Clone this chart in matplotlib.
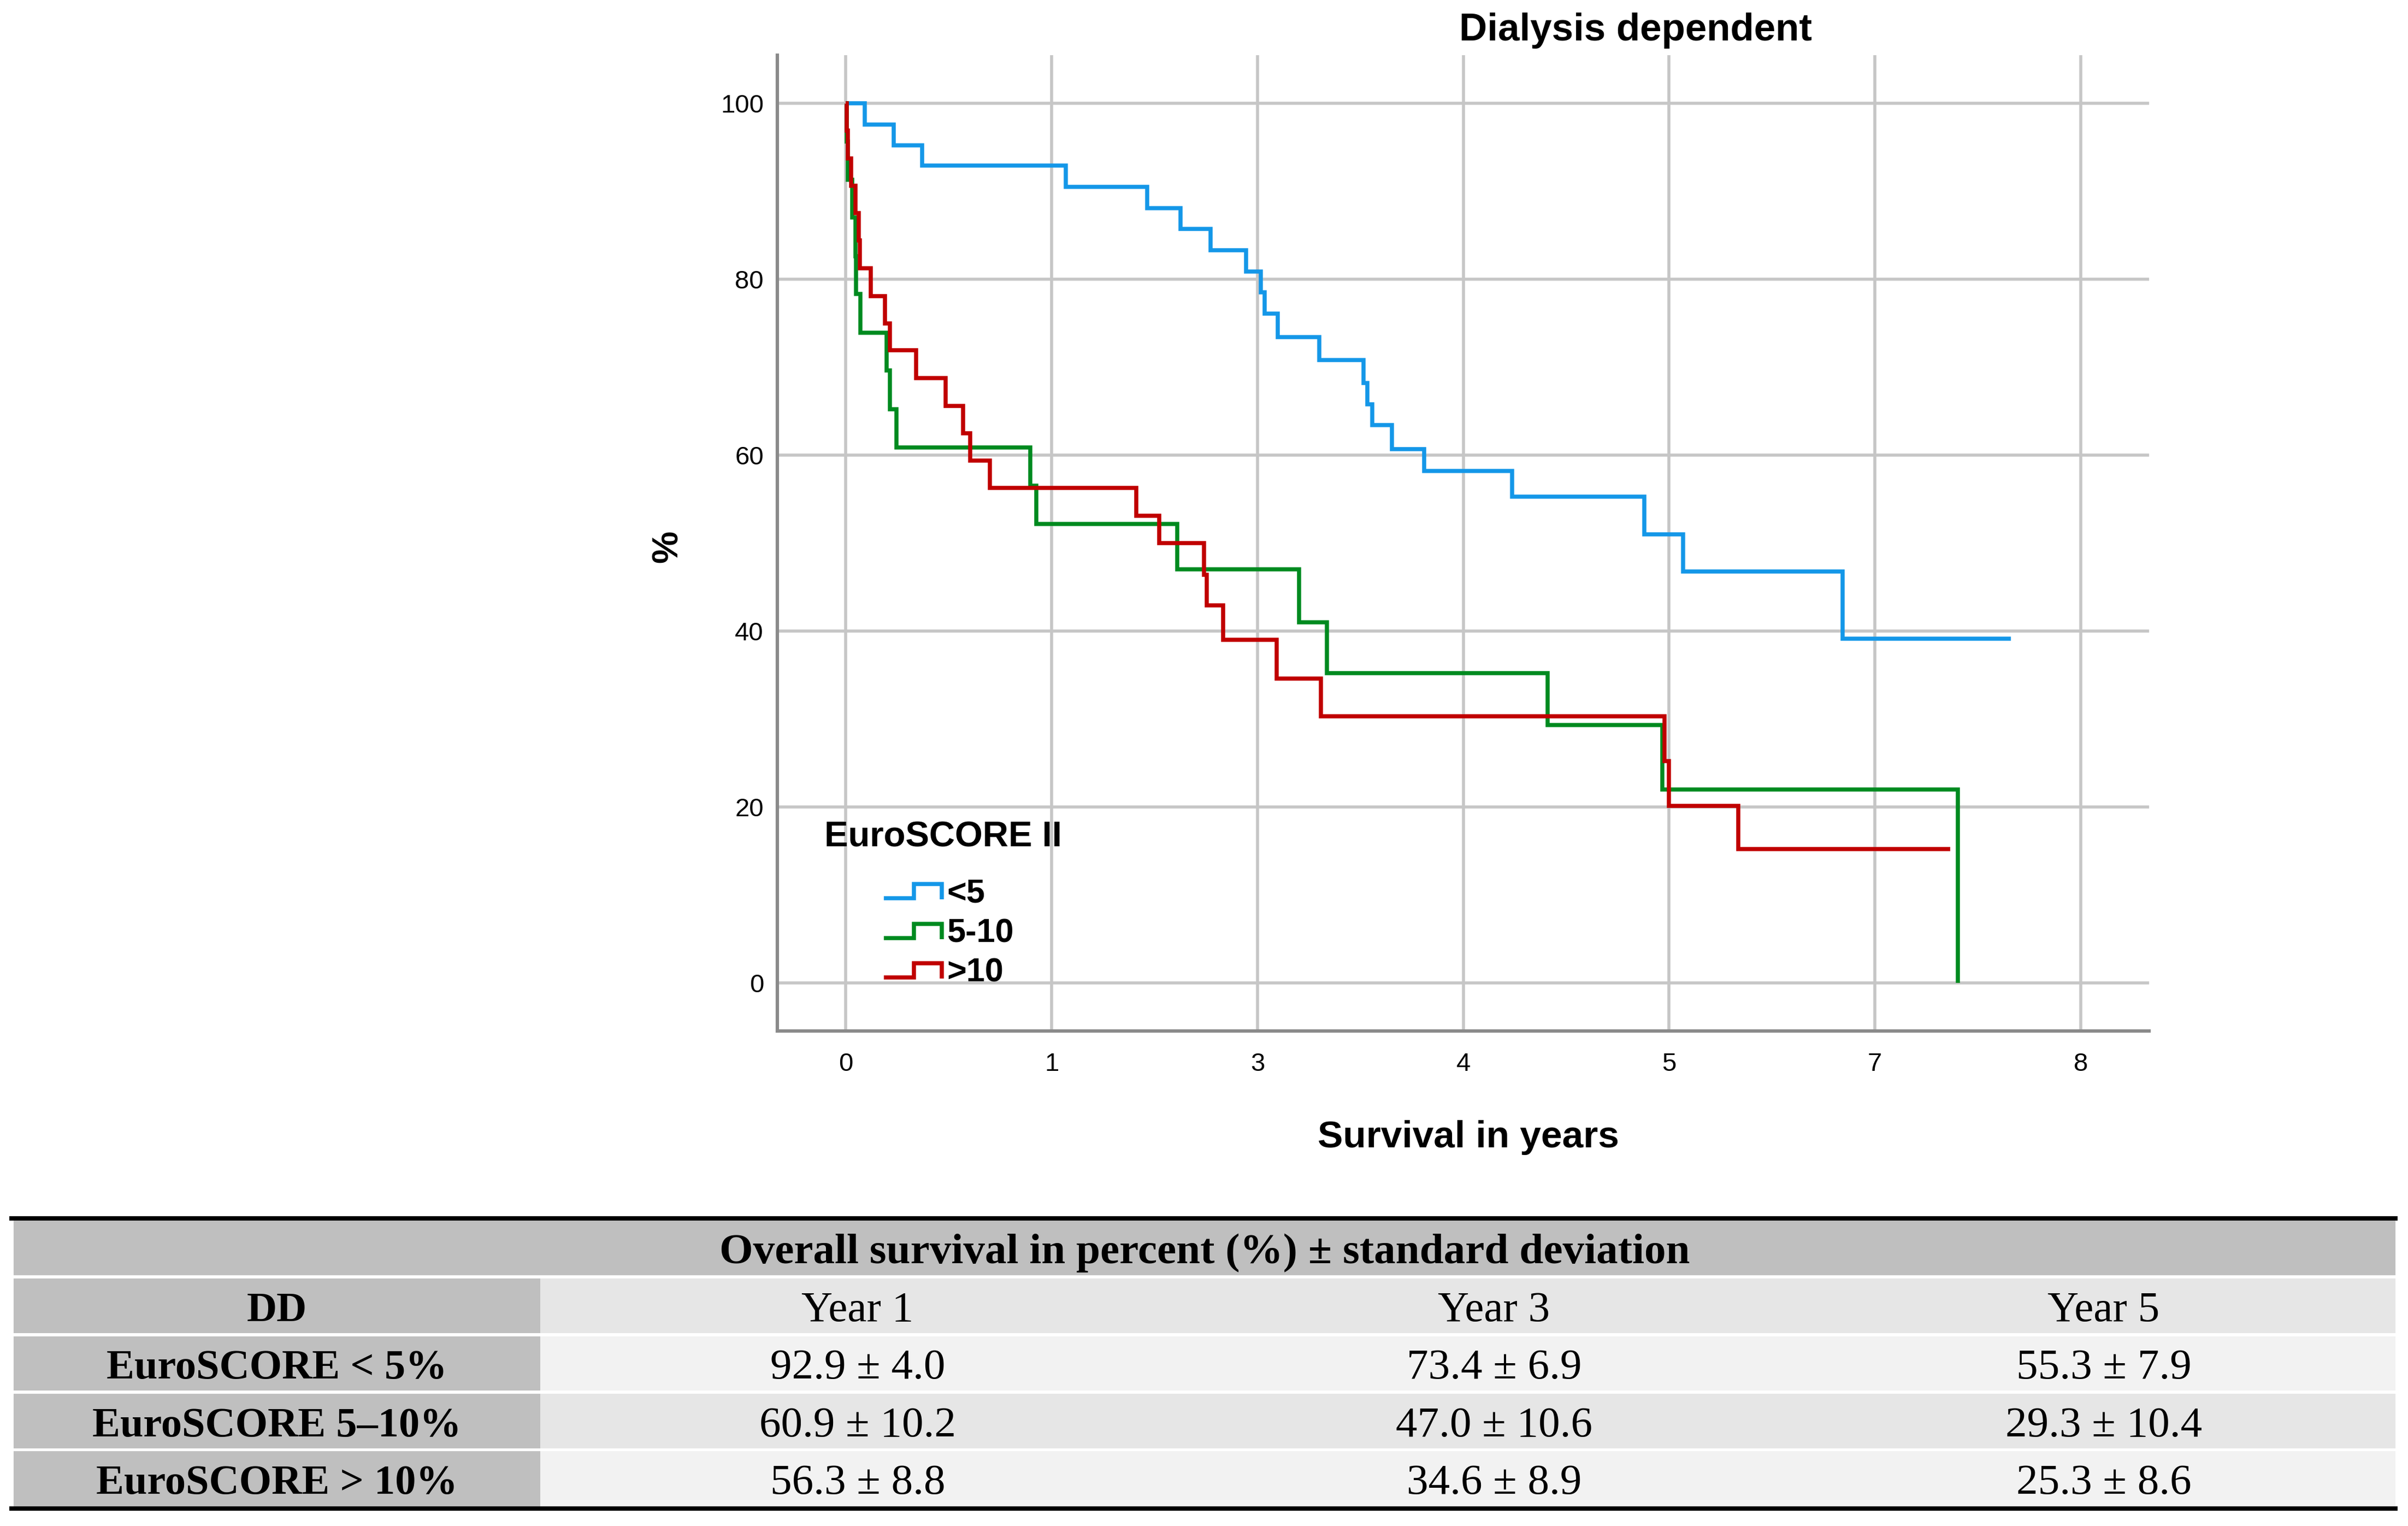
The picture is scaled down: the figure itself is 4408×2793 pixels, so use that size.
import matplotlib
matplotlib.use("Agg")
import matplotlib.pyplot as plt
from matplotlib.lines import Line2D
from matplotlib.patches import Rectangle

# ---------------- data ----------------
groups = ["<5", "5-10", ">10"]
colors = ["#1497E8", "#008A1F", "#C00000"]

blue_t = [0, 0.126, 0.319, 0.508, 1.462, 2.004, 2.226, 2.424, 2.662, 2.760, 2.784,
          2.873, 3.148, 3.444, 3.470, 3.500, 3.632, 3.848, 4.430, 5.312, 5.570, 6.630, 7.750]
blue_s = [100, 97.6, 95.2, 92.9, 90.5, 88.1, 85.7, 83.3, 80.9, 78.5, 76.1,
          73.4, 70.8, 68.2, 65.8, 63.4, 60.7, 58.2, 55.3, 51.0, 46.8, 39.1, 39.1]

green_t = [0, 0.005, 0.012, 0.040, 0.062, 0.068, 0.097, 0.270, 0.292, 0.336,
           1.226, 1.265, 2.205, 3.014, 3.201, 4.669, 5.430, 7.398]
green_s = [100, 95.65, 91.3, 87.0, 82.6, 78.3, 73.9, 69.6, 65.2, 60.9,
           56.5, 52.2, 47.0, 41.0, 35.2, 29.3, 22.0, 0]

red_t = [0, 0.004, 0.012, 0.033, 0.065, 0.086, 0.094, 0.167, 0.260, 0.292, 0.468,
         0.663, 0.781, 0.827, 0.958, 1.930, 2.085, 2.381, 2.400, 2.510, 2.866, 3.158,
         5.445, 5.475, 5.934, 7.344]
red_s = [100, 96.9, 93.75, 90.6, 87.5, 84.4, 81.25, 78.1, 75.0, 71.9, 68.75,
         65.6, 62.5, 59.4, 56.25, 53.1, 50.0, 46.4, 42.9, 39.0, 34.6, 30.3,
         25.2, 20.1, 15.2, 15.2]

tick_days = [0, 500, 1000, 1500, 2000, 2500, 3000]
tick_labels = ["0", "1", "3", "4", "5", "7", "8"]
y_ticks = [0, 20, 40, 60, 80, 100]

table_title = "Overall survival in percent (%) \u00b1 standard deviation"
table_corner = "DD"
table_cols = ["Year 1", "Year 3", "Year 5"]
table_rows = ["EuroSCORE < 5%", "EuroSCORE 5\u201310%", "EuroSCORE > 10%"]
table_vals = [["92.9 \u00b1 4.0", "73.4 \u00b1 6.9", "55.3 \u00b1 7.9"],
              ["60.9 \u00b1 10.2", "47.0 \u00b1 10.6", "29.3 \u00b1 10.4"],
              ["56.3 \u00b1 8.8", "34.6 \u00b1 8.9", "25.3 \u00b1 8.6"]]

# ---------------- figure ----------------
W, H = 4408, 2793
DPI = 200
fig = plt.figure(figsize=(W / DPI, H / DPI), dpi=DPI)
sans = ["Liberation Sans", "DejaVu Sans"]
serif = ["Liberation Serif", "DejaVu Serif"]

ax_l, ax_r, ax_t, ax_b = 1423, 3934, 101, 1887
ax = fig.add_axes([ax_l / W, 1 - ax_b / H, (ax_r - ax_l) / W, (ax_b - ax_t) / H])

series = [(blue_t, blue_s), (green_t, green_s), (red_t, red_s)]
for (t, s), c in zip(series, colors):
    ax.step(t, s, where="post", color=c, lw=2.7, solid_joinstyle="miter",
            solid_capstyle="butt", zorder=3)

xt = [d / 365.25 for d in tick_days]
ax.set_xticks(xt)
ax.set_xticklabels(tick_labels, family=sans, fontsize=17)
ax.set_yticks(y_ticks)
ax.set_yticklabels([str(v) for v in y_ticks], family=sans, fontsize=17)
ax.set_xlim(-0.456, 8.668)
ax.set_ylim(-5.47, 105.47)
ax.tick_params(axis="both", length=0)
ax.tick_params(axis="x", pad=14)
ax.tick_params(axis="y", pad=9)
ax.grid(True, color="#c6c6c6", lw=2.0, zorder=0)
ax.set_axisbelow(True)
for side in ["top", "right"]:
    ax.spines[side].set_visible(False)
for side in ["left", "bottom"]:
    ax.spines[side].set_color("#8a8a8a")
    ax.spines[side].set_linewidth(2.2)

# titles / labels
fig.text(2994 / W, 1 - 56 / H, "Dialysis dependent", family=sans, fontsize=25.5,
         fontweight="bold", ha="center", va="center")
fig.text(2688 / W, 1 - 2082 / H, "Survival in years", family=sans, fontsize=25,
         fontweight="bold", ha="center", va="center")
fig.text(1223 / W, 1 - 1000 / H, "%", family=sans, fontsize=24, fontweight="bold",
         ha="center", va="center", rotation=90)

# overlay axes in pixel coordinates for legend and table
ov = fig.add_axes([0, 0, 1, 1], facecolor="none")
ov.set_xlim(0, W)
ov.set_ylim(H, 0)
ov.axis("off")

# legend
ov.text(1509, 1533, "EuroSCORE II", family=sans, fontsize=23.5, fontweight="bold",
        ha="left", va="center")
row_c = [1636, 1709, 1781]
for g, c, yc in zip(groups, colors, row_c):
    ov.add_line(Line2D([1618, 1673, 1673, 1724, 1724],
                       [yc + 8, yc + 8, yc - 18, yc - 18, yc + 10],
                       color=c, lw=2.7, solid_joinstyle="miter", solid_capstyle="butt"))
    ov.text(1733, yc, g, family=sans, fontsize=22, fontweight="bold",
            ha="left", va="center")

# table
tx0, tx1 = 25, 4385
first_col_r = 989
row_bounds = [(2234, 2334), (2340, 2440), (2446, 2545), (2551, 2651), (2656, 2757)]
col_centers = [1570, 2735, 3851]
dark = "#bfbfbf"
light_a = "#e6e6e6"
light_b = "#f2f2f2"
text_dy = 9

# header row
y0, y1 = row_bounds[0]
ov.add_patch(Rectangle((tx0, y0), tx1 - tx0, y1 - y0, facecolor=dark, edgecolor="none"))
ov.text((tx0 + tx1) / 2, (y0 + y1) / 2 + text_dy, table_title, family=serif, fontsize=28.5,
        fontweight="bold", ha="center", va="center")

# column label row and body rows
row_fill = [light_a, light_b, light_a, light_b]
labels_first = [table_corner] + table_rows
cells = [table_cols] + table_vals
for i in range(4):
    y0, y1 = row_bounds[i + 1]
    ov.add_patch(Rectangle((tx0, y0), first_col_r - tx0, y1 - y0, facecolor=dark,
                           edgecolor="none"))
    ov.add_patch(Rectangle((first_col_r, y0), tx1 - first_col_r, y1 - y0,
                           facecolor=row_fill[i], edgecolor="none"))
    yc = (y0 + y1) / 2 + text_dy
    ov.text((tx0 + first_col_r) / 2, yc, labels_first[i], family=serif, fontsize=27.5,
            fontweight="bold", ha="center", va="center")
    for xc, txt in zip(col_centers, cells[i]):
        ov.text(xc, yc, txt, family=serif, fontsize=28.5, ha="center", va="center")

# thick rules
ov.add_line(Line2D([21, tx1], [2230, 2230], color="black", lw=2.9))
ov.add_line(Line2D([21, tx1], [2761, 2761], color="black", lw=2.9))

fig.savefig("out.png", dpi=DPI)
